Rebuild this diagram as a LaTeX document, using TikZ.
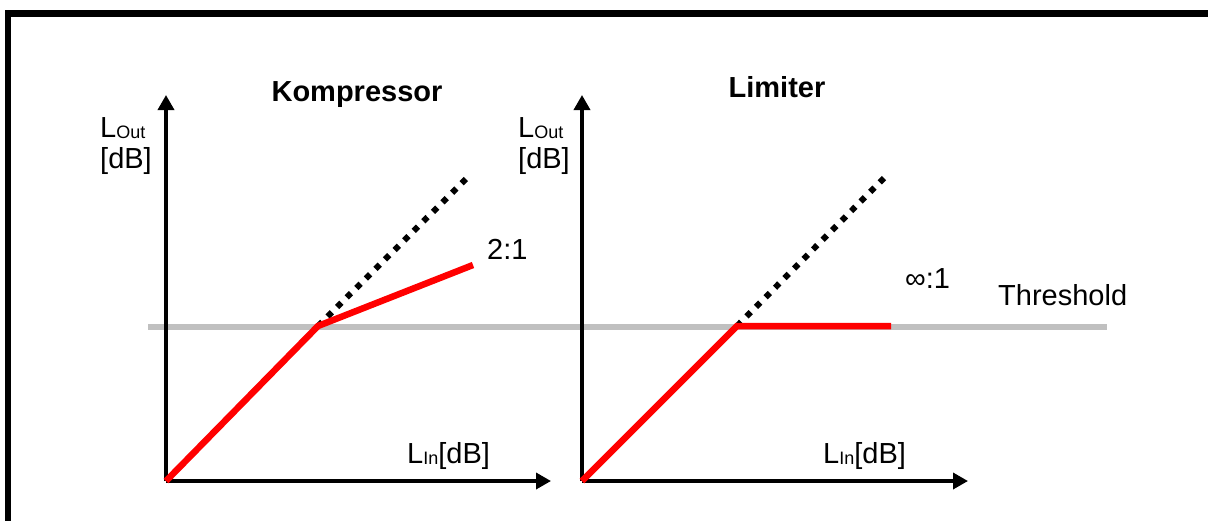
\documentclass[tikz,border=0pt]{standalone}
\usepackage{fontspec}
\setmainfont{Liberation Sans}
\usetikzlibrary{arrows.meta}
\definecolor{threshgray}{RGB}{192,192,192}
\definecolor{curvered}{RGB}{255,0,0}
\newcommand{\lsub}[1]{\raisebox{-1.5pt}{\fontsize{18}{18}\selectfont #1}}
\begin{document}
\begin{tikzpicture}[x=1pt,y=-1pt,
  axis/.style={line width=3.5pt,-{Triangle[length=15pt,width=16pt]}},
  curve/.style={line width=6.5pt,draw=curvered,line join=miter},
  ideal/.style={line width=6pt,dash pattern=on 6pt off 7.5pt},
  thresh/.style={line width=6pt,draw=threshgray},
  frame/.style={line width=6.5pt},
  lbl/.style={font=\fontsize{29}{33}\selectfont,inner sep=0pt},
  title/.style={font=\bfseries\fontsize{29}{33}\selectfont,inner sep=0pt}]
\useasboundingbox (0,0) rectangle (1208,520);
% frame
\draw[frame] (8,525) -- (8,13.5) -- (1215,13.5);
% coordinates
\coordinate (o1) at (166,481);
\coordinate (y1) at (166,95);
\coordinate (x1) at (551,481);
\coordinate (k1) at (318,326);
\coordinate (r1) at (473,265);
\coordinate (d1) at (470,175);
\coordinate (o2) at (582,481);
\coordinate (y2) at (582,95);
\coordinate (x2) at (968,481);
\coordinate (k2) at (737,326);
\coordinate (r2) at (891,326);
\coordinate (d2) at (887,175);
\coordinate (tl) at (148,326.5);
\coordinate (tr) at (1107,326.5);
% threshold line
\draw[thresh] (tl) -- (tr);
% axes
\draw[axis] (o1) -- (y1);
\draw[axis] (o1) -- (x1);
\draw[axis] (o2) -- (y2);
\draw[axis] (o2) -- (x2);
% ideal 1:1 lines
\draw[ideal] (k1) -- (d1);
\draw[ideal] (k2) -- (d2);
% characteristic curves
\draw[curve] (o1) -- (k1) -- (r1);
\draw[curve] (o2) -- (k2) -- (r2);
% labels
\node[title,anchor=base] (t1) at (357,101) {Kompressor};
\node[title,anchor=base] (t2) at (777,97) {Limiter};
\node[lbl,anchor=base west] (lo1) at (100,137) {L\lsub{Out}};
\node[lbl,anchor=base west] (db1) at (100,168) {[dB]};
\node[lbl,anchor=base west] (lo2) at (518,137) {L\lsub{Out}};
\node[lbl,anchor=base west] (db2) at (518,168) {[dB]};
\node[lbl,anchor=base west] (li1) at (407,463) {L\lsub{In}[dB]};
\node[lbl,anchor=base west] (li2) at (823,463) {L\lsub{In}[dB]};
\node[lbl,anchor=base west] (ra1) at (487,259) {2:1};
\node[lbl,anchor=base west] (ra2) at (905,288) {∞:1};
\node[lbl,anchor=base west] (th) at (998,305) {Threshold};
\end{tikzpicture}
\end{document}
